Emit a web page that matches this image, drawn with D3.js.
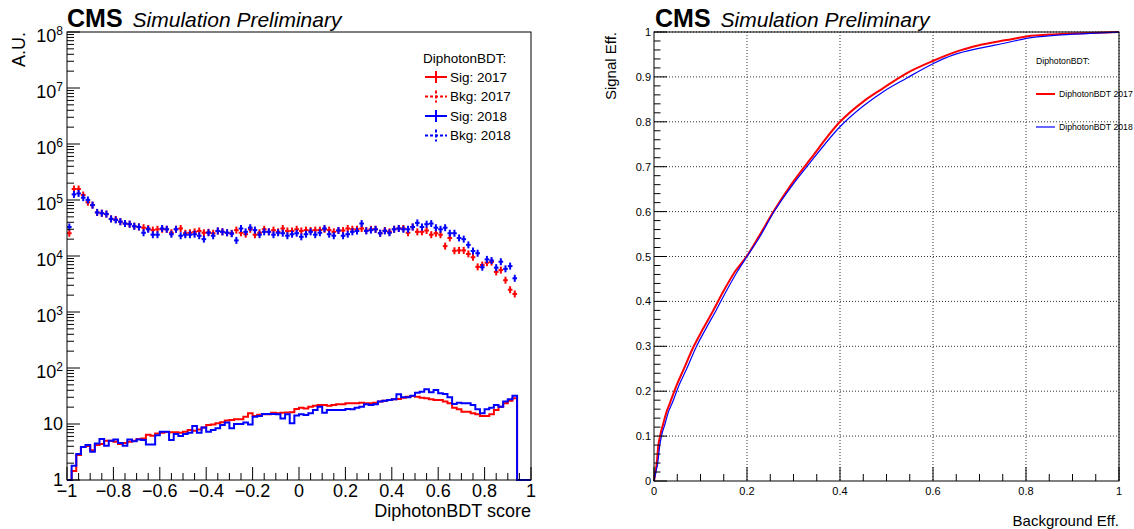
<!DOCTYPE html>
<html>
<head>
<meta charset="utf-8">
<script src="https://cdn.jsdelivr.net/npm/d3@7"></script>
<style>
  body { margin: 0; background: #fff; }
  svg { display: block; font-family: "Liberation Sans", Arial, Helvetica, sans-serif; }
</style>
</head>
<body>
<svg id="chart" width="1134" height="529"></svg>
<script>
// ---- left pad: DiphotonBDT score, 100 bins from -1 to 1 ----
const nBins = 100;
const binEdges = d3.range(nBins + 1).map(i => -1 + i * 2 / nBins);

const sig2017 = [
  1, 1.45, 2.8, 3.9, 4.05, 3.4, 4.2, 4.4, 5.0, 5.0,
  4.8, 4.4, 4.6, 4.8, 5.0, 5.4, 5.5, 6.4, 6.2, 6.8,
  7.0, 7.2, 7.1, 7.1, 7.0, 7.3, 7.8, 7.6, 8.0, 8.7,
  9.6, 9.8, 10.3, 10.7, 11.5, 11.8, 12.1, 12.1, 13.5, 15.5,
  13.9, 14.6, 15.0, 15.0, 15.9, 15.5, 15.9, 16.0, 16.2, 18.5,
  19.6, 19.0, 20.4, 21.2, 21.8, 21.8, 21.2, 21.8, 22.5, 22.5,
  23.4, 23.4, 23.4, 24.0, 23.4, 23.4, 24.0, 25.1, 26.1, 26.8,
  27.6, 27.9, 29.5, 30.8, 31.6, 30.8, 29.5, 28.7, 27.6, 26.8,
  26.8, 25.1, 23.4, 19.6, 18.3, 16.6, 16.6, 15.5, 14.9, 13.9,
  13.9, 14.9, 17.8, 20.4, 23.4, 26.1, 28.7, 0, 0, 0
];
const sig2018 = [
  1, 1.8, 2.9, 3.9, 4.2, 3.2, 4.5, 5.4, 4.1, 5.0,
  5.3, 4.6, 4.1, 5.3, 4.9, 5.3, 5.2, 4.3, 4.3, 6.3,
  7.3, 7.3, 5.2, 6.6, 6.1, 6.6, 7.0, 9.2, 7.0, 8.7,
  7.3, 7.8, 8.4, 9.6, 10.6, 8.4, 10.0, 10.0, 10.6, 9.8,
  13.5, 13.9, 15.1, 15.1, 15.1, 15.0, 12.5, 15.0, 10.3, 14.2,
  14.9, 14.5, 15.5, 17.8, 20.4, 15.9, 17.8, 17.8, 17.8, 17.8,
  18.5, 18.3, 19.6, 20.4, 22.5, 21.8, 22.5, 25.1, 26.1, 26.8,
  27.6, 33.9, 29.9, 29.9, 32.1, 36.3, 37.8, 41.6, 36.8, 40.5,
  35.3, 34.3, 29.9, 22.8, 24.0, 23.4, 23.4, 21.8, 18.3, 15.5,
  18.3, 19.6, 21.8, 20.4, 25.1, 27.6, 32.1, 0, 0, 0
];
const bkg2017 = [
  2.55e4, 1.57e5, 1.57e5, 1.23e5, 9.1e4, 8.1e4, 6.0e4, 5.8e4, 5.6e4, 4.6e4,
  4.5e4, 4.1e4, 3.8e4, 3.7e4, 3.4e4, 3.3e4, 3.2e4, 3.1e4, 2.9e4, 3.0e4,
  3.0e4, 3.0e4, 2.6e4, 3.0e4, 3.1e4, 2.55e4, 2.6e4, 2.7e4, 2.8e4, 2.6e4,
  2.65e4, 2.55e4, 2.8e4, 2.7e4, 2.6e4, 2.55e4, 2.9e4, 2.6e4, 2.45e4, 3.0e4,
  2.4e4, 2.6e4, 3.0e4, 2.7e4, 2.9e4, 2.7e4, 3.1e4, 2.8e4, 2.8e4, 3.0e4,
  2.8e4, 2.9e4, 2.85e4, 2.9e4, 2.9e4, 3.0e4, 2.9e4, 2.7e4, 2.85e4, 2.85e4,
  3.1e4, 3.0e4, 3.0e4, 3.1e4, 2.85e4, 3.0e4, 3.0e4, 2.55e4, 2.85e4, 2.7e4,
  3.0e4, 3.1e4, 3.1e4, 2.6e4, 3.3e4, 2.7e4, 2.7e4, 2.85e4, 2.4e4, 2.55e4,
  2.4e4, 1.5e4, 2.1e4, 1.24e4, 1.26e4, 1.26e4, 1.09e4, 9.5e3, 6.4e3, 6.9e3,
  7.6e3, 7.8e3, 5.2e3, 5.6e3, 3.7e3, 2.5e3, 2.1e3, 0, 0, 0
];
const bkg2018 = [
  3.3e4, 1.26e5, 1.31e5, 1.10e5, 1.0e5, 8.1e4, 6.0e4, 5.8e4, 5.6e4, 4.6e4,
  4.4e4, 4.1e4, 3.8e4, 3.7e4, 3.4e4, 3.3e4, 2.6e4, 3.0e4, 2.4e4, 2.4e4,
  3.1e4, 3.0e4, 2.45e4, 3.0e4, 2.3e4, 2.4e4, 2.4e4, 2.45e4, 2.3e4, 2.0e4,
  2.6e4, 2.3e4, 2.8e4, 2.7e4, 2.6e4, 2.5e4, 1.9e4, 3.1e4, 2.7e4, 3.2e4,
  2.9e4, 2.4e4, 2.7e4, 2.7e4, 2.4e4, 2.6e4, 2.55e4, 2.3e4, 2.45e4, 2.55e4,
  2.2e4, 2.45e4, 2.7e4, 2.4e4, 2.6e4, 3.1e4, 2.45e4, 2.3e4, 2.85e4, 2.3e4,
  2.45e4, 2.7e4, 2.8e4, 3.8e4, 2.8e4, 2.9e4, 3.0e4, 2.55e4, 2.8e4, 2.6e4,
  3.0e4, 3.1e4, 3.0e4, 3.0e4, 3.3e4, 3.9e4, 3.3e4, 3.7e4, 3.8e4, 3.2e4,
  3.0e4, 3.2e4, 2.55e4, 2.55e4, 2.1e4, 2.0e4, 1.58e4, 1.23e4, 1.12e4, 6.3e3,
  8.7e3, 8.3e3, 6.2e3, 7.9e3, 5.9e3, 6.6e3, 4.0e3, 0, 0, 0
];
const xTicksLeft = [-1, -0.8, -0.6, -0.4, -0.2, 0, 0.2, 0.4, 0.6, 0.8, 1];
const decades = [0, 1, 2, 3, 4, 5, 6, 7, 8];

// ---- right pad: ROC curves ----
const rocBkg2017 = [0, 0.003, 0.006, 0.009, 0.013, 0.02, 0.027, 0.034, 0.049, 0.063, 0.085, 0.106, 0.128, 0.149, 0.174, 0.199, 0.224, 0.257, 0.295, 0.335, 0.4, 0.45, 0.493, 0.543, 0.601, 0.644, 0.701, 0.758, 0.801, 0.866, 0.938, 1.0];
const rocSig2017 = [0, 0.02, 0.04, 0.076, 0.1, 0.128, 0.154, 0.173, 0.214, 0.247, 0.299, 0.34, 0.381, 0.422, 0.466, 0.5, 0.542, 0.6, 0.66, 0.715, 0.80, 0.845, 0.875, 0.908, 0.936, 0.954, 0.971, 0.982, 0.99, 0.995, 0.998, 1.0];
const rocBkg2018 = [0, 0.004, 0.008, 0.012, 0.016, 0.024, 0.031, 0.039, 0.054, 0.069, 0.091, 0.112, 0.134, 0.155, 0.179, 0.2, 0.227, 0.257, 0.295, 0.335, 0.4, 0.45, 0.493, 0.543, 0.601, 0.644, 0.701, 0.758, 0.801, 0.866, 0.938, 1.0];
const rocSig2018 = [0, 0.02, 0.04, 0.076, 0.1, 0.128, 0.154, 0.173, 0.214, 0.247, 0.299, 0.34, 0.381, 0.422, 0.466, 0.5, 0.543, 0.598, 0.655, 0.708, 0.789, 0.835, 0.867, 0.897, 0.93, 0.949, 0.964, 0.976, 0.986, 0.993, 0.997, 1.0];

const RED = "#ff0000", BLUE = "#0000ff";
const svg = d3.select("#chart");

// CMS label helper
function cmsLabel(x) {
  const t = svg.append("text").attr("x", x).attr("y", 27);
  t.append("tspan").attr("font-weight", "bold").attr("font-size", 25).text("CMS");
  t.append("tspan").attr("dx", 10).attr("font-style", "italic").attr("font-size", 21).text("Simulation Preliminary");
}

// ================= LEFT =================
const L = { x0: 67, x1: 531, y0: 32, y1: 480 };
const x = d3.scaleLinear().domain([-1, 1]).range([L.x0, L.x1]);
const y = d3.scaleLog().domain([1, 1e8]).range([L.y1, L.y0]).clamp(true);
const left = svg.append("g");

function stepPath(vals) {
  let p = `M${x(binEdges[0])},${L.y1}`;
  vals.forEach((v, i) => {
    const yy = v > 0 ? y(v) : L.y1;
    p += `L${x(binEdges[i])},${yy}L${x(binEdges[i + 1])},${yy}`;
  });
  return p + `L${x(binEdges[nBins])},${L.y1}`;
}

function drawHist(vals, color) {
  left.append("path").attr("d", stepPath(vals))
    .attr("fill", "none").attr("stroke", color).attr("stroke-width", 2)
    .attr("stroke-linejoin", "miter");
}

function drawPoints(vals, color) {
  const g = left.append("g").attr("stroke", color).attr("stroke-width", 2);
  vals.forEach((v, i) => {
    if (!(v > 0)) return;
    const cx = x((binEdges[i] + binEdges[i + 1]) / 2), cy = y(v);
    g.append("line").attr("x1", x(binEdges[i])).attr("x2", x(binEdges[i + 1]))
      .attr("y1", cy).attr("y2", cy);
    g.append("line").attr("x1", cx).attr("x2", cx)
      .attr("y1", cy - 3.5).attr("y2", cy + 3.5);
  });
}

drawHist(sig2017, RED);
drawPoints(bkg2017, RED);
drawHist(sig2018, BLUE);
drawPoints(bkg2018, BLUE);

// frame
left.append("rect").attr("x", L.x0).attr("y", L.y0)
  .attr("width", L.x1 - L.x0).attr("height", L.y1 - L.y0)
  .attr("fill", "none").attr("stroke", "#000").attr("stroke-width", 1);

// x ticks
const xMinor = d3.range(-1, 1.0001, 0.05);
left.append("g").selectAll("line").data(xMinor).join("line")
  .attr("x1", d => x(d)).attr("x2", d => x(d))
  .attr("y1", L.y1).attr("y2", d => L.y1 - (xTicksLeft.some(t => Math.abs(t - d) < 1e-6) ? 13 : 7))
  .attr("stroke", "#000");
left.append("g").selectAll("text").data(xTicksLeft).join("text")
  .attr("x", d => x(d)).attr("y", 497).attr("text-anchor", "middle")
  .attr("font-size", 18)
  .text(d => d === 0 ? "0" : d3.format("~g")(d));
left.append("text").attr("x", L.x1).attr("y", 517).attr("text-anchor", "end")
  .attr("font-size", 18).text("DiphotonBDT score");

// y ticks (log)
decades.forEach(n => {
  const yy = y(Math.pow(10, n));
  left.append("line").attr("x1", L.x0).attr("x2", L.x0 + 13)
    .attr("y1", yy).attr("y2", yy).attr("stroke", "#000");
  if (n < 8) {
    for (let k = 2; k <= 9; k++) {
      const ym = y(k * Math.pow(10, n));
      left.append("line").attr("x1", L.x0).attr("x2", L.x0 + 7)
        .attr("y1", ym).attr("y2", ym).attr("stroke", "#000");
    }
  }
  if (n <= 1) {
    left.append("text").attr("x", 63).attr("y", yy + 6).attr("text-anchor", "end")
      .attr("font-size", 18).text(n === 0 ? "1" : "10");
  } else {
    const t = left.append("text").attr("x", 63).attr("y", yy + 10).attr("text-anchor", "end")
      .attr("font-size", 18);
    t.append("tspan").text("10");
    t.append("tspan").attr("font-size", 12).attr("dy", -7).text(n);
  }
});
left.append("text").attr("transform", `translate(25,${L.y0}) rotate(-90)`)
  .attr("text-anchor", "end").attr("font-size", 18).text("A.U.");

// legend
const legL = svg.append("g").attr("font-size", 13.5);
legL.append("text").attr("x", 423).attr("y", 58).attr("dy", "0.35em").text("DiphotonBDT:");
const legEntries = [
  { label: "Sig: 2017", color: RED, dash: null },
  { label: "Bkg: 2017", color: RED, dash: "3,2" },
  { label: "Sig: 2018", color: BLUE, dash: null },
  { label: "Bkg: 2018", color: BLUE, dash: "3,2" }
];
legEntries.forEach((e, i) => {
  const cy = 77 + i * 19.5;
  legL.append("line").attr("x1", 425).attr("x2", 447).attr("y1", cy).attr("y2", cy)
    .attr("stroke", e.color).attr("stroke-width", 2).attr("stroke-dasharray", e.dash);
  legL.append("line").attr("x1", 436).attr("x2", 436).attr("y1", cy - 6).attr("y2", cy + 6)
    .attr("stroke", e.color).attr("stroke-width", 2).attr("stroke-dasharray", e.dash);
  legL.append("text").attr("x", 450).attr("y", cy).attr("dy", "0.35em").text(e.label);
});

cmsLabel(67);

// ================= RIGHT =================
const R = { x0: 654, x1: 1119, y0: 32, y1: 481 };
const rx = d3.scaleLinear().domain([0, 1]).range([R.x0, R.x1]);
const ry = d3.scaleLinear().domain([0, 1]).range([R.y1, R.y0]);
const right = svg.append("g");

const rxMajor = [0, 0.2, 0.4, 0.6, 0.8, 1];
const ryMajor = [0, 0.1, 0.2, 0.3, 0.4, 0.5, 0.6, 0.7, 0.8, 0.9, 1];

// grid
right.append("g").selectAll("line").data(rxMajor.slice(1)).join("line")
  .attr("x1", d => rx(d)).attr("x2", d => rx(d)).attr("y1", R.y0).attr("y2", R.y1)
  .attr("stroke", "#333").attr("stroke-dasharray", "1,2");
right.append("g").selectAll("line").data(ryMajor.slice(1)).join("line")
  .attr("x1", R.x0).attr("x2", R.x1).attr("y1", d => ry(d)).attr("y2", d => ry(d))
  .attr("stroke", "#333").attr("stroke-dasharray", "1,2");

// curves
const roc = (xs, ys) => d3.line().curve(d3.curveMonotoneX)
  .x(d => rx(d[0])).y(d => ry(d[1]))(d3.zip(xs, ys));
right.append("path").attr("d", roc(rocBkg2017, rocSig2017))
  .attr("fill", "none").attr("stroke", RED).attr("stroke-width", 2);
right.append("path").attr("d", roc(rocBkg2018, rocSig2018))
  .attr("fill", "none").attr("stroke", BLUE).attr("stroke-width", 1.2);

// frame
right.append("rect").attr("x", R.x0).attr("y", R.y0)
  .attr("width", R.x1 - R.x0).attr("height", R.y1 - R.y0)
  .attr("fill", "none").attr("stroke", "#000").attr("stroke-width", 1);

// ticks
const isMajor = (arr, d) => arr.some(t => Math.abs(t - d) < 1e-6);
right.append("g").selectAll("line").data(d3.range(0, 1.0001, 0.05)).join("line")
  .attr("x1", d => rx(d)).attr("x2", d => rx(d))
  .attr("y1", R.y1).attr("y2", d => R.y1 - (isMajor(rxMajor, d) ? 14 : 7))
  .attr("stroke", "#000");
right.append("g").selectAll("line").data(d3.range(0, 1.0001, 0.02)).join("line")
  .attr("y1", d => ry(d)).attr("y2", d => ry(d))
  .attr("x1", R.x0).attr("x2", d => R.x0 + (isMajor(ryMajor, d) ? 13 : 6.5))
  .attr("stroke", "#000");
right.append("g").selectAll("text").data(rxMajor).join("text")
  .attr("x", d => rx(d)).attr("y", 495).attr("text-anchor", "middle")
  .attr("font-size", 11).text(d => d3.format("~g")(d));
right.append("g").selectAll("text").data(ryMajor).join("text")
  .attr("x", 651).attr("y", d => ry(d) + 4).attr("text-anchor", "end")
  .attr("font-size", 11).text(d => d3.format("~g")(d));
right.append("text").attr("x", R.x1).attr("y", 526).attr("text-anchor", "end")
  .attr("font-size", 15).text("Background Eff.");
right.append("text").attr("transform", `translate(616,${R.y0}) rotate(-90)`)
  .attr("text-anchor", "end").attr("font-size", 15).text("Signal Eff.");

// legend
const legR = svg.append("g").attr("font-size", 8.7);
legR.append("text").attr("x", 1036).attr("y", 61).attr("dy", "0.35em").text("DiphotonBDT:");
[{ label: "DiphotonBDT 2017", color: RED, w: 2, cy: 94 },
 { label: "DiphotonBDT 2018", color: BLUE, w: 1.2, cy: 127 }].forEach(e => {
  legR.append("line").attr("x1", 1036).attr("x2", 1055).attr("y1", e.cy).attr("y2", e.cy)
    .attr("stroke", e.color).attr("stroke-width", e.w);
  legR.append("text").attr("x", 1059).attr("y", e.cy).attr("dy", "0.35em").text(e.label);
});

cmsLabel(655);
</script>
</body>
</html>
